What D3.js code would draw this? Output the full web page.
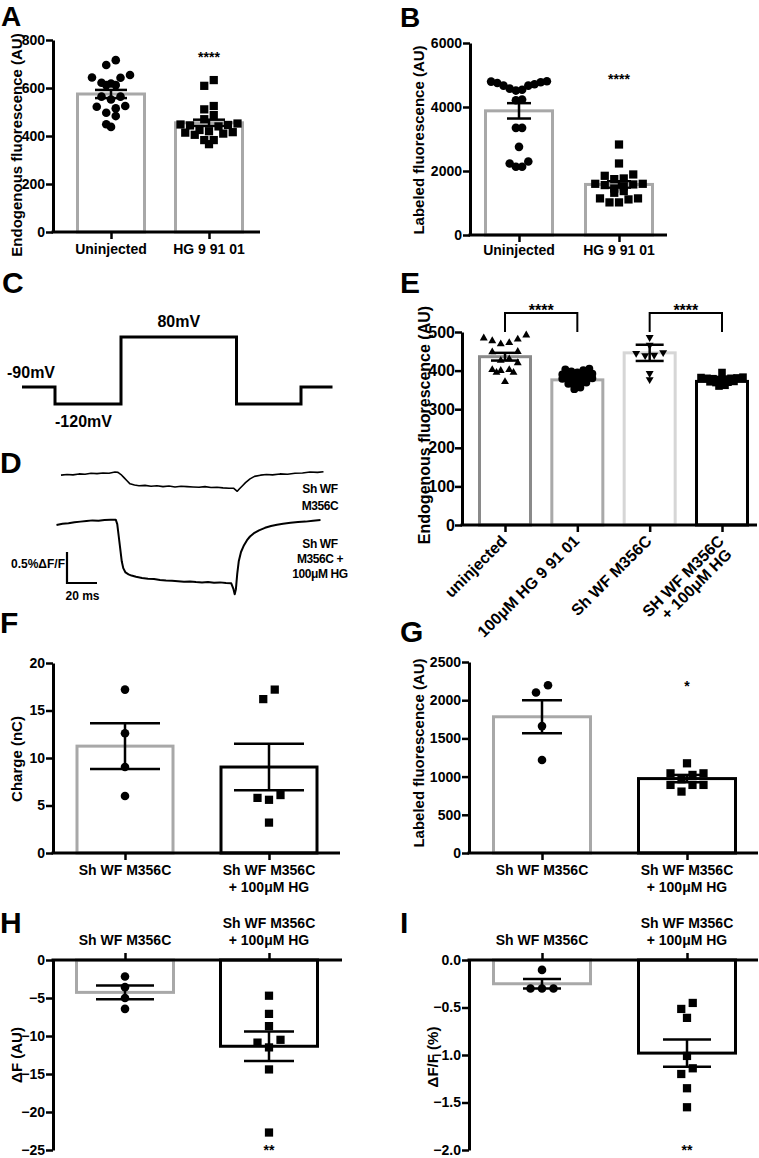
<!DOCTYPE html>
<html><head><meta charset="utf-8">
<script src="https://cdn.jsdelivr.net/npm/d3@7"></script>
<style>
body{margin:0;background:#fff}
svg{display:block}
text{font-family:"Liberation Sans",Arial,Helvetica,sans-serif;font-weight:bold;fill:#000}
</style></head>
<body><svg id="c" width="759" height="1158"></svg>
<script>
// ================= DATA =================
// Panel A / B
const catsAB = ["Uninjected", "HG 9 91 01"];
const ticksA = [0, 200, 400, 600, 800];
const A_uninjected = [716, 696, 644, 654, 643, 622, 612, 612, 619, 564, 552, 564, 525, 515, 522, 483, 497, 438, 449];
const A_hg = [633, 609, 525, 511, 487, 470, 452, 448, 446, 444, 440, 425, 420, 416, 414, 410, 405, 383, 383, 366];
const A_means = [575, 455];
const A_sem = [17, 13];

const ticksB = [0, 2000, 4000, 6000];
const B_uninjected = [4804, 4773, 4710, 4669, 4575, 4540, 4513, 4669, 4752, 4794, 4232, 4211, 3348, 3348, 2755, 2235, 2131, 2131, 2298];
const B_hg = [2828, 2235, 1850, 1892, 1746, 1767, 1600, 1560, 1520, 1600, 1580, 1452, 1372, 1320, 1144, 1112, 1019, 1019, 1144];
const B_means = [3880, 1580];
const B_sem = [240, 100];

// Panel C (voltage protocol) / D (fluorescence traces, %ΔF/F vs ms)
const stimTimes = [-22, 0, 44, 121, 164, 185];
const stimVolts = [-90, -120, 80, -120, -90, -90];
const stimLabels = ["-90mV", "-120mV", "80mV"];
const traceT1 = [4,8,12,16,20,24,28,32,36,40,42,44,46,48,50,53,56,60,64,68,72,76,80,84,88,92,96,100,104,108,112,116,119,121.5,123,125,127,130,133,137,141,145,150,155,160,165,170,175,179];
const traceV1 = [-0.03,-0.02,-0.025,-0.01,-0.015,0,-0.005,0.005,0,0.02,0.015,-0.02,-0.07,-0.12,-0.17,-0.19,-0.2,-0.195,-0.21,-0.2,-0.215,-0.205,-0.22,-0.21,-0.215,-0.22,-0.225,-0.215,-0.23,-0.225,-0.235,-0.24,-0.24,-0.29,-0.25,-0.2,-0.15,-0.09,-0.05,-0.03,-0.02,-0.025,-0.01,-0.015,0,0.005,0.02,0.015,0.025];
const traceT2 = [1,5,9,13,17,21,25,29,33,37,40.5,41.5,42.5,43.5,44.5,45.5,47,49,51,54,58,62,66,70,74,78,82,86,90,94,98,102,106,110,114,117.5,119,119.8,120.6,121.5,122.5,124,126,128,130,133,136,140,144,148,152,157,162,167,172,177];
const traceV2 = [-0.065,-0.045,-0.035,-0.02,-0.01,0,0.01,0.005,0.015,0.02,0.022,-0.05,-0.25,-0.45,-0.65,-0.76,-0.83,-0.86,-0.88,-0.9,-0.92,-0.93,-0.935,-0.95,-0.96,-0.965,-0.97,-0.98,-0.975,-0.985,-0.99,-0.985,-0.995,-0.99,-1.0,-1.005,-1.1,-1.18,-1.1,-0.85,-0.65,-0.5,-0.39,-0.31,-0.25,-0.19,-0.15,-0.11,-0.08,-0.06,-0.045,-0.03,-0.015,-0.01,0.005,0.015];
const traceLabels = [["Sh WF", "M356C"], ["Sh WF", "M356C +", "100μM HG"]];
const scaleBarLabels = ["0.5%ΔF/F", "20 ms"];

// Panel E
const catsE = ["uninjected", "100μM HG 9 91 01", "Sh WF M356C", "SH WF M356C + 100μM HG"];
const linesE = [["uninjected"], ["100μM HG 9 91 01"], ["Sh WF M356C"], ["SH WF M356C", "+ 100μM HG"]];
const ticksE = [0, 100, 200, 300, 400, 500];
const E_uninjected = [484, 477, 469, 472, 481, 492, 449, 430, 426, 420, 402, 395, 371, 395, 400, 402, 448];
const E_hg = [405, 403, 401, 398, 395, 392, 390, 388, 386, 384, 382, 380, 379, 377, 375, 373, 371, 369, 366, 363, 360, 356, 352];
const E_sh = [486, 447, 440, 439, 445, 377, 393, 466];
const E_shhg = [395, 383, 382, 381, 380, 380, 379, 378, 377, 372, 371, 370, 369, 368, 362, 360];
const E_means = [436, 376, 446, 372];
const E_sem = [10, 3, 21, 3];

// Panels F-I
const catsFG = ["Sh WF M356C", "Sh WF M356C + 100μM HG"];
const linesFG = [["Sh WF M356C"], ["Sh WF M356C", "+ 100μM HG"]];
const ticksF = [0, 5, 10, 15, 20];
const F_sh = [17.2, 12.6, 9.05, 6.0];
const F_hg = [16.2, 17.2, 5.8, 5.6, 6.1, 3.2];
const F_means = [11.25, 9.05];
const F_sem = [2.4, 2.45];

const ticksG = [0, 500, 1000, 1500, 2000, 2500];
const G_sh = [2100, 2196, 1661, 1217];
const G_hg = [1174, 1043, 1022, 1043, 965, 891, 891, 891, 804];
const G_means = [1783, 974];
const G_sem = [215, 48];

const ticksH = [0, -5, -10, -15, -20, -25];
const H_sh = [-2.17, -3.57, -5.0, -6.43];
const H_hg = [-4.7, -7.09, -8.7, -10.5, -10.87, -11.5, -14.4, -22.7];
const H_means = [-4.26, -11.35];
const H_sem = [0.89, 1.93];

const ticksI = [0, -0.5, -1.0, -1.5, -2.0];
const I_sh = [-0.104, -0.30, -0.30, -0.30];
const I_hg = [-0.452, -0.515, -0.609, -1.01, -1.14, -1.2, -1.35, -1.55];
const I_means = [-0.25, -0.98];
const I_sem = [0.05, 0.143];

// ================= DRAW =================
const svg = d3.select("#c");
const GRAY = "#a8a8a8";

// Prism-like scatter: points close in value share a row, spread symmetrically
function swarm(vals, y, cx, tol, spacing) {
  const items = vals.map(v => ({v, py: y(v)})).sort((a, b) => a.py - b.py);
  const rows = []; let cur = null;
  items.forEach(it => {
    if (cur && it.py - cur[0].py < tol) cur.push(it); else { cur = [it]; rows.push(cur); }
  });
  rows.forEach(r => {
    const n = r.length;
    const slots = d3.range(n).map(k => (k - (n - 1) / 2) * spacing)
      .sort((a, b) => Math.abs(a) - Math.abs(b) || a - b);
    r.slice().sort((a, b) => b.py - a.py).forEach((it, k) => it.px = cx + slots[k]);
  });
  return items;
}

function symbolPath(shape, k) {
  k = k || 1;
  if (shape === "circle") return d3.symbol(d3.symbolCircle, 58 * k)();
  if (shape === "square") return d3.symbol(d3.symbolSquare, 68 * k)();
  return d3.symbol(d3.symbolTriangle, 32 * k)();
}

function panelLetter(t, x, y, fs) {
  svg.append("text").attr("x", x).attr("y", y).attr("font-size", fs || 30).text(t);
}

function barPanel(p) {
  const g = svg.append("g");
  const y = d3.scaleLinear().domain(p.domain).range([p.yBot, p.yTop]);
  const x = d3.scalePoint().domain(p.cats).range(p.centers);
  const y0 = y(0);
  const fs = p.fs || 14;

  g.selectAll("rect.bar").data(p.cats).join("rect")
    .attr("x", c => x(c) - p.barW / 2).attr("width", p.barW)
    .attr("y", (c, i) => Math.min(y(p.means[i]), y0))
    .attr("height", (c, i) => Math.abs(y(p.means[i]) - y0))
    .attr("fill", "none").attr("stroke", (c, i) => p.colors[i]).attr("stroke-width", 3);

  p.cats.forEach((c, i) => {
    const tol = p.tol ? p.tol[i] : 9;
    const sp = p.spacing ? p.spacing[i] : 10;
    const pts = swarm(p.pts[i], y, x(c), tol, sp);
    g.selectAll(null).data(pts).join("path")
      .attr("d", symbolPath(p.shapes[i], p.symScale))
      .attr("transform", d => `translate(${d.px},${d.py})` + (p.shapes[i] === "tridown" ? " rotate(180)" : ""))
      .attr("fill", "#000");
  });

  p.cats.forEach((c, i) => {
    const cx = x(c), m = p.means[i], s = p.sem[i];
    const eg = g.append("g").attr("stroke", "#000").attr("stroke-width", 2.5).attr("fill", "none");
    eg.append("line").attr("x1", cx).attr("x2", cx).attr("y1", y(m - s)).attr("y2", y(m + s));
    [m - s, m + s].forEach(v => eg.append("line").attr("x1", cx - p.cap[i]).attr("x2", cx + p.cap[i]).attr("y1", y(v)).attr("y2", y(v)));
  });

  const ya = g.append("g").attr("transform", `translate(${p.ax},0)`)
    .call(d3.axisLeft(y).tickValues(p.ticks).tickSize(7).tickSizeOuter(0).tickPadding(p.tickPad != null ? p.tickPad : 1).tickFormat(p.fmt || d3.format("d")));
  ya.attr("font-family", null).attr("font-size", null);
  ya.select(".domain").attr("stroke-width", 3).attr("stroke", "#000");
  ya.selectAll(".tick line").attr("stroke-width", 2.5).attr("stroke", "#000");
  ya.selectAll(".tick text").attr("font-size", fs).attr("fill", "#000");

  g.append("line").attr("x1", p.ax - 1.5).attr("x2", p.xEnd).attr("y1", y0).attr("y2", y0)
    .attr("stroke", "#000").attr("stroke-width", 3);
  const xa = g.append("g").attr("transform", `translate(0,${y0})`)
    .call((p.top ? d3.axisTop(x) : d3.axisBottom(x)).tickSize(7).tickSizeOuter(0).tickFormat(""));
  xa.select(".domain").remove();
  xa.selectAll(".tick line").attr("stroke-width", 2.5).attr("stroke", "#000");

  p.cats.forEach((c, i) => {
    const lines = p.lines[i];
    if (p.rotate) {
      const t = g.append("text").attr("font-size", fs).attr("text-anchor", "end")
        .attr("transform", `translate(${x(c) + 3},${y0 + 17}) rotate(-45)`);
      lines.forEach((l, j) => t.append("tspan").attr("x", -4 * j).attr("y", 15 * j).text(l));
    } else {
      const base = p.labelBase[i];
      lines.forEach((l, j) => g.append("text").attr("font-size", fs).attr("text-anchor", "middle")
        .attr("x", x(c)).attr("y", base[j]).text(l));
    }
  });

  g.append("text").attr("font-size", p.ylfs || 15).attr("text-anchor", "middle")
    .attr("transform", `translate(${p.ylx},${p.yly}) rotate(-90)`).attr("dy", "0.35em").text(p.ylabel);

  (p.stars || []).forEach(s => g.append("text").attr("font-size", fs).attr("text-anchor", "middle")
    .attr("x", x(p.cats[s.i])).attr("y", s.y).text(s.t));

  return {x, y, g};
}

// ---- A ----
panelLetter("A", 1, 26, 28);
barPanel({ax: 53, xEnd: 260, yTop: 40, yBot: 232, domain: [0, 800], ticks: ticksA,
  cats: catsAB, lines: catsAB.map(c => [c]), centers: [111, 209], barW: 67, colors: [GRAY, GRAY],
  means: A_means, sem: A_sem, pts: [A_uninjected, A_hg], shapes: ["circle", "square"], cap: [16, 16],
  tol: [9, 8], spacing: [9.5, 9.5],
  labelBase: [[254], [254]], ylabel: "Endogenous fluorescence (AU)", ylx: 17, yly: 145,
  stars: [{i: 1, y: 62, t: "****"}]});

// ---- B ----
panelLetter("B", 400, 27, 28);
barPanel({ax: 470, xEnd: 667, yTop: 43, yBot: 235, domain: [0, 6000], ticks: ticksB,
  cats: catsAB, lines: catsAB.map(c => [c]), centers: [519, 619], barW: 67, colors: [GRAY, GRAY],
  means: B_means, sem: B_sem, pts: [B_uninjected, B_hg], shapes: ["circle", "square"], cap: [12, 12],
  tol: [10, 7], spacing: [6.2, 9.5],
  labelBase: [[255], [255]], ylabel: "Labeled fluorescence (AU)", ylx: 419, yly: 140,
  stars: [{i: 1, y: 84, t: "****"}]});

// ---- C ----
panelLetter("C", 2, 293);
const tx = d3.scaleLinear().domain([0, 180]).range([55, 325]);
const vy = d3.scaleLinear().domain([-120, -90, 80]).range([404, 387, 337]);
svg.append("path")
  .attr("d", d3.line().x(d => tx(d[0])).y(d => vy(d[1])).curve(d3.curveStepAfter)(stimTimes.map((t, i) => [t, stimVolts[i]])))
  .attr("fill", "none").attr("stroke", "#000").attr("stroke-width", 3);
svg.append("text").attr("font-size", 16).attr("x", tx(-32)).attr("y", vy(-90) - 9).text(stimLabels[0]);
svg.append("text").attr("font-size", 16).attr("x", tx(0)).attr("y", vy(-120) + 23).text(stimLabels[1]);
svg.append("text").attr("font-size", 16).attr("text-anchor", "middle").attr("x", tx(82.5)).attr("y", vy(80) - 10).text(stimLabels[2]);

// ---- D ----
panelLetter("D", 0, 473);
const dy1 = d3.scaleLinear().domain([0, -1]).range([473.3, 535.3]);
const dy2 = d3.scaleLinear().domain([0, -1]).range([521, 583]);
svg.append("path").attr("d", d3.line().x(d => tx(d[0])).y(d => dy1(d[1]))(traceT1.map((t, i) => [t, traceV1[i]])))
  .attr("fill", "none").attr("stroke", "#000").attr("stroke-width", 1.6).attr("stroke-linejoin", "round");
svg.append("path").attr("d", d3.line().x(d => tx(d[0])).y(d => dy2(d[1]))(traceT2.map((t, i) => [t, traceV2[i]])))
  .attr("fill", "none").attr("stroke", "#000").attr("stroke-width", 2).attr("stroke-linejoin", "round");
svg.append("path").attr("d", `M${tx(8)},${dy2(-0.5)}V${dy2(-1)}H${tx(28)}`)
  .attr("fill", "none").attr("stroke", "#000").attr("stroke-width", 2.2);
svg.append("text").attr("font-size", 12).attr("text-anchor", "end").attr("x", tx(8) - 2).attr("y", 568).text(scaleBarLabels[0]);
svg.append("text").attr("font-size", 12).attr("x", tx(7)).attr("y", 600).text(scaleBarLabels[1]);
[[493, 510], [548, 563, 578]].forEach((bases, k) => {
  traceLabels[k].forEach((l, j) => svg.append("text").attr("font-size", 12).attr("text-anchor", "middle")
    .attr("letter-spacing", "-0.4").attr("x", 320).attr("y", bases[j]).text(l));
});

// ---- E ----
panelLetter("E", 400, 293);
const E = barPanel({ax: 462, xEnd: 757, yTop: 332, yBot: 525, domain: [0, 500], ticks: ticksE, fs: 16, tickPad: 0,
  cats: catsE, lines: linesE, centers: [505, 722], barW: 51, colors: ["#8a8a8a", "#a9a9a9", "#d6d6d6", "#000"],
  means: E_means, sem: E_sem, pts: [E_uninjected, E_hg, E_sh, E_shhg], shapes: ["tri", "circle", "tridown", "square"],
  symScale: 0.85, tol: [9.5, 4, 6, 3.5], spacing: [8.5, 6, 9, 6], cap: [14, 6, 14, 6], rotate: true,
  ylabel: "Endogenous fluorescence (AU)", ylx: 424, yly: 425, ylfs: 16});
[[0, 1], [2, 3]].forEach(([a, b]) => {
  const xa = E.x(catsE[a]), xb = E.x(catsE[b]), yb = E.y(500);
  E.g.append("path").attr("d", `M${xa},${yb}V${yb - 19}H${xb}V${yb}`)
    .attr("fill", "none").attr("stroke", "#000").attr("stroke-width", 2);
  E.g.append("text").attr("font-size", 16).attr("text-anchor", "middle")
    .attr("x", (xa + xb) / 2).attr("y", yb - 16).text("****");
});

// ---- F ----
panelLetter("F", 0, 633);
barPanel({ax: 53, xEnd: 340, yTop: 663, yBot: 853, domain: [0, 20], ticks: ticksF,
  cats: catsFG, lines: linesFG, centers: [125, 269], barW: 96, colors: [GRAY, "#000"],
  means: F_means, sem: F_sem, pts: [F_sh, F_hg], shapes: ["circle", "square"], cap: [35, 35],
  tol: [10, 11], spacing: [11, 11.5],
  labelBase: [[875], [875, 892]], ylabel: "Charge (nC)", ylx: 17, yly: 759});

// ---- G ----
panelLetter("G", 400, 642);
barPanel({ax: 469, xEnd: 758, yTop: 662, yBot: 853, domain: [0, 2500], ticks: ticksG,
  cats: catsFG, lines: linesFG, centers: [542, 687], barW: 97, colors: [GRAY, "#000"],
  means: G_means, sem: G_sem, pts: [G_sh, G_hg], shapes: ["circle", "square"], cap: [20, 15],
  tol: [10, 8], spacing: [12, 11],
  labelBase: [[875], [875, 892]], ylabel: "Labeled fluorescence (AU)", ylx: 419, yly: 753,
  stars: [{i: 1, y: 691, t: "*"}]});

// ---- H ----
panelLetter("H", 0, 933);
barPanel({ax: 53, xEnd: 342, yTop: 960, yBot: 1150, domain: [-25, 0], ticks: ticksH, top: true,
  cats: catsFG, lines: linesFG, centers: [125, 269], barW: 97, colors: [GRAY, "#000"],
  means: H_means, sem: H_sem, pts: [H_sh, H_hg], shapes: ["circle", "square"], cap: [29, 25],
  tol: [10, 10], spacing: [12, 11.5],
  labelBase: [[945], [928, 945]], ylabel: "ΔF (AU)", ylx: 17, yly: 1055,
  stars: [{i: 1, y: 1155, t: "**"}]});

// ---- I ----
panelLetter("I", 400, 933);
barPanel({ax: 469, xEnd: 758, yTop: 960, yBot: 1150, domain: [-2, 0], ticks: ticksI, top: true, fmt: d3.format(".1f"),
  cats: catsFG, lines: linesFG, centers: [542, 687], barW: 97, colors: [GRAY, "#000"],
  means: I_means, sem: I_sem, pts: [I_sh, I_hg], shapes: ["circle", "square"], cap: [19, 24],
  tol: [10, 9], spacing: [11.5, 11.5],
  labelBase: [[945], [928, 945]], ylabel: "ΔF/F (%)", ylx: 433, yly: 1057,
  stars: [{i: 1, y: 1155, t: "**"}]});
</script></body></html>
